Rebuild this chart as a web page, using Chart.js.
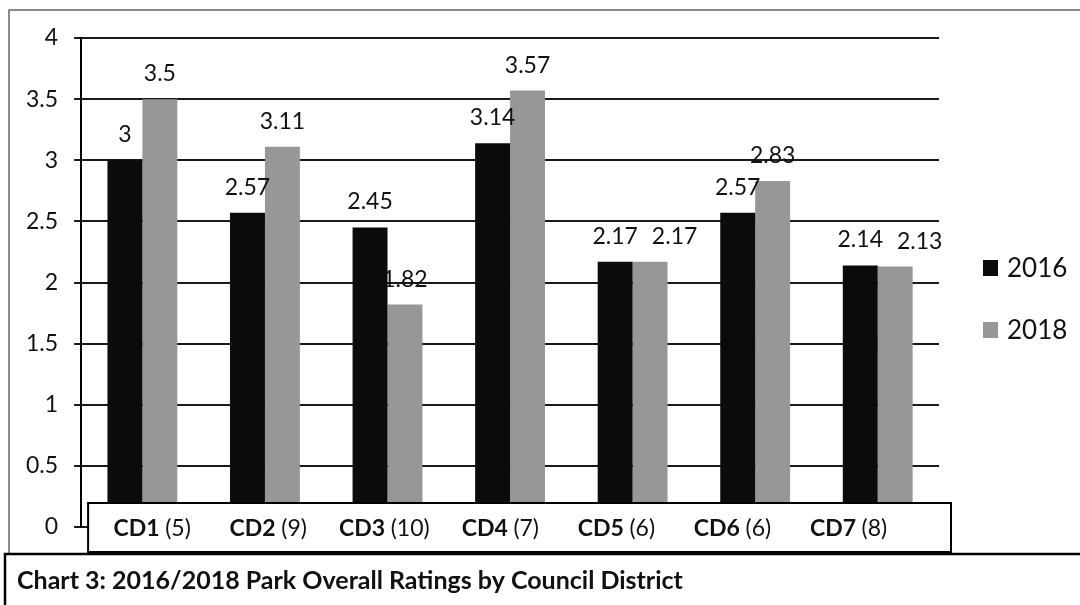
<!DOCTYPE html>
<html>
<head>
<meta charset="utf-8">
<script src="https://cdn.jsdelivr.net/npm/chart.js@4.4.0/dist/chart.umd.min.js"></script>
<style>
  html, body { margin: 0; padding: 0; background: #fff; }
  #wrap { position: relative; width: 1080px; height: 605px; }
</style>
</head>
<body>
<div id="wrap"><canvas id="parkChart" width="1080" height="605"></canvas></div>
<script>
// Veriler
const districts = ['CD1', 'CD2', 'CD3', 'CD4', 'CD5', 'CD6', 'CD7'];
const parkCounts = ['(5)', '(9)', '(10)', '(7)', '(6)', '(6)', '(8)'];
const ratings2016 = [3, 2.57, 2.45, 3.14, 2.17, 2.57, 2.14];
const ratings2018 = [3.5, 3.11, 1.82, 3.57, 2.17, 2.83, 2.13];
const seriesNames = ['2016', '2018'];
const yMin = 0, yMax = 4, yStep = 0.5;
const chartTitle = 'Chart 3: 2016/2018 Park Overall Ratings by Council District';

const FONT = 'Lato, "Open Sans", sans-serif';
const INK = '#111';
const colors = ['#0b0b0b', '#979797'];
// kategori metin kutusu, eksenden biraz daha dar aralıklı
const labelSpread = 0.947, labelShift = 0.08;

// Çerçeveler, kategori kutusu, değer etiketleri, lejant ve başlık
const decor = {
    id: 'decor',
    beforeDraw(chart) {
        const c = chart.ctx;
        c.save();
        c.fillStyle = '#fff';
        c.fillRect(0, 0, chart.width, chart.height);
        // dış çerçeve
        c.strokeStyle = '#666';
        c.lineWidth = 1.5;
        c.beginPath();
        c.moveTo(9, 553); c.lineTo(9, 10); c.lineTo(1080, 10);
        c.stroke();
        c.restore();
    },
    afterDatasetsDraw(chart) {
        const c = chart.ctx;
        const x = chart.scales.x, y = chart.scales.y;
        c.save();
        // değer etiketleri (çakışan etiketler sağa kaydırılır)
        c.font = `23px ${FONT}`;
        c.fillStyle = INK;
        c.textAlign = 'left';
        c.textBaseline = 'alphabetic';
        const prevRight = [];
        chart.data.datasets.forEach((ds, i) => {
            chart.getDatasetMeta(i).data.forEach((bar, j) => {
                const txt = String(ds.data[j]);
                const w = c.measureText(txt).width;
                let left = bar.x - w / 2;
                const by = bar.y - 18;
                if (i > 0 && prevRight[j] && Math.abs(prevRight[j].y - by) < 24 && left < prevRight[j].r + 14) {
                    left = prevRight[j].r + 14;
                }
                c.fillText(txt, left, by);
                prevRight[j] = { r: left + w, y: by };
            });
        });
        // kategori kutusu
        const y0 = y.getPixelForValue(0);
        const boxL = chart.chartArea.left + 7, boxR = chart.chartArea.right + 12;
        const boxT = y0 - 24, boxB = y0 + 25;
        c.fillStyle = '#fff';
        c.fillRect(boxL, boxT, boxR - boxL, boxB - boxT);
        c.strokeStyle = '#000';
        c.lineWidth = 2;
        c.strokeRect(boxL, boxT, boxR - boxL, boxB - boxT);
        c.textBaseline = 'middle';
        districts.forEach((d, j) => {
            const bold = `bold 23px ${FONT}`, norm = `23px ${FONT}`;
            c.font = bold; const w1 = c.measureText(d + ' ').width;
            c.font = norm; const w2 = c.measureText(parkCounts[j]).width;
            const cx = x.getPixelForValue(j * labelSpread + labelShift) - (w1 + w2) / 2;
            c.fillStyle = INK;
            c.font = bold; c.fillText(d + ' ', cx, y0 + 2);
            c.font = norm; c.fillText(parkCounts[j], cx + w1, y0 + 2);
        });
        // başlık kutusu
        c.strokeStyle = '#000';
        c.lineWidth = 2.5;
        c.beginPath();
        c.moveTo(5, 608); c.lineTo(5, 554); c.lineTo(1080, 554);
        c.stroke();
        c.font = `bold 25px ${FONT}`;
        c.fillText(chartTitle, 17, 581);
        // lejant
        c.font = `26px ${FONT}`;
        const legY = [268, 330];
        seriesNames.forEach((n, i) => {
            c.fillStyle = colors[i];
            c.fillRect(983, legY[i] - 8, 15, 16);
            c.fillStyle = INK;
            c.fillText(n, 1007, legY[i] + 1);
        });
        c.restore();
    }
};

new Chart(document.getElementById('parkChart'), {
    type: 'bar',
    data: {
        labels: districts.map((d, i) => `${d} ${parkCounts[i]}`),
        datasets: [
            { label: seriesNames[0], data: ratings2016, backgroundColor: colors[0] },
            { label: seriesNames[1], data: ratings2018, backgroundColor: colors[1] }
        ]
    },
    options: {
        responsive: false,
        animation: false,
        layout: { padding: { top: 38, bottom: 78, left: 10, right: 141 } },
        datasets: { bar: { categoryPercentage: 0.57, barPercentage: 1.0 } },
        plugins: { legend: { display: false }, tooltip: { enabled: false } },
        scales: {
            x: { display: false },
            y: {
                min: yMin, max: yMax,
                ticks: {
                    stepSize: yStep, padding: 16, color: INK,
                    font: { family: FONT, size: 23 },
                    callback: (v) => String(v)
                },
                grid: { color: '#1a1a1a', lineWidth: 2, tickLength: 7 },
                border: { display: true, color: '#000', width: 2 }
            }
        }
    },
    plugins: [decor]
});
</script>
</body>
</html>
